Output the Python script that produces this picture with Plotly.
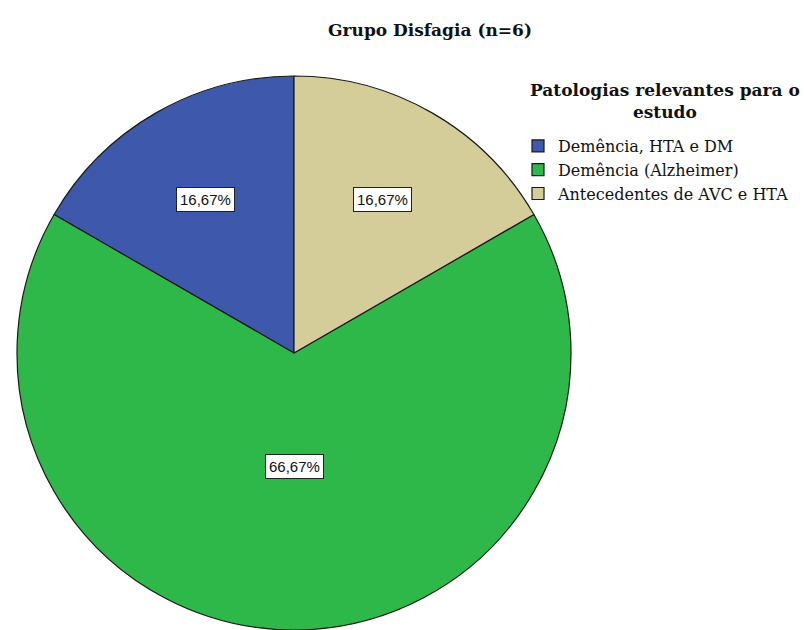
import math
import plotly.graph_objects as go

# ---- data ----
categories = ["Demência, HTA e DM", "Demência (Alzheimer)", "Antecedentes de AVC e HTA"]
counts = [1, 4, 1]
colors = ["#3E58AC", "#2EB84A", "#D4CD99"]
title_text = "Grupo Disfagia (n=6)"
legend_title = "Patologias relevantes para o<br>estudo"

# ---- layout constants (pixels) ----
W, H = 804, 630
CX, CY, R = 294, 353, 277          # pie centre / radius in pixels
label_r_frac = [0.64, 0.41, 0.64]  # radial placement of value boxes

total = sum(counts)
pct = [c / total * 100 for c in counts]
pct_text = [f"{p:.2f}".replace(".", ",") + "%" for p in pct]

fig = go.Figure()
fig.add_trace(go.Pie(
    labels=categories,
    values=counts,
    sort=False,
    direction="counterclockwise",
    # first slice starts at 12 o'clock and runs counterclockwise
    rotation=-360 * counts[0] / total,
    marker=dict(colors=colors, line=dict(color="#1a1a1a", width=1.2)),
    textinfo="none",
    hoverinfo="label+percent",
    domain=dict(x=[(CX - R) / W, (CX + R) / W], y=[1 - (CY + R) / H, 1 - (CY - R) / H]),
    showlegend=True,
))

# value boxes placed at slice mid-angles (counterclockwise from 12 o'clock)
annotations = []
cum = 0.0
for i, c in enumerate(counts):
    mid = (cum + c / 2) / total * 2 * math.pi
    cum += c
    rr = R * label_r_frac[i]
    px = CX - rr * math.sin(mid)
    py = CY - rr * math.cos(mid)
    annotations.append(dict(
        x=px / W, y=1 - py / H, xref="paper", yref="paper",
        text=pct_text[i], showarrow=False,
        font=dict(family="Liberation Sans, Arial, sans-serif", size=15, color="#111111"),
        bgcolor="#ffffff", bordercolor="#222222", borderwidth=1, borderpad=3,
        xanchor="center", yanchor="middle",
    ))

# legend title (centred, two lines)
annotations.append(dict(
    x=665 / W, y=1 - 101 / H, xref="paper", yref="paper",
    text=f"<b>{legend_title}</b>", showarrow=False, align="center",
    xanchor="center", yanchor="middle",
    font=dict(family="DejaVu Serif, serif", size=17, color="#111111"),
))

fig.update_layout(
    width=W, height=H,
    margin=dict(l=0, r=0, t=0, b=0),
    paper_bgcolor="#ffffff",
    plot_bgcolor="#ffffff",
    title=dict(
        text=f"<b>{title_text}</b>",
        x=430 / W, xanchor="center", xref="paper",
        y=1 - 30 / H, yanchor="middle", yref="paper",
        font=dict(family="DejaVu Serif, serif", size=17, color="#111111"),
    ),
    legend=dict(
        x=518 / W, xanchor="left",
        y=1 - 129 / H, yanchor="top",
        bgcolor="rgba(255,255,255,0)",
        font=dict(family="DejaVu Serif, serif", size=16, color="#111111"),
        itemwidth=30,
        tracegroupgap=0,
    ),
    annotations=annotations,
)

fig.write_html("out.html")
